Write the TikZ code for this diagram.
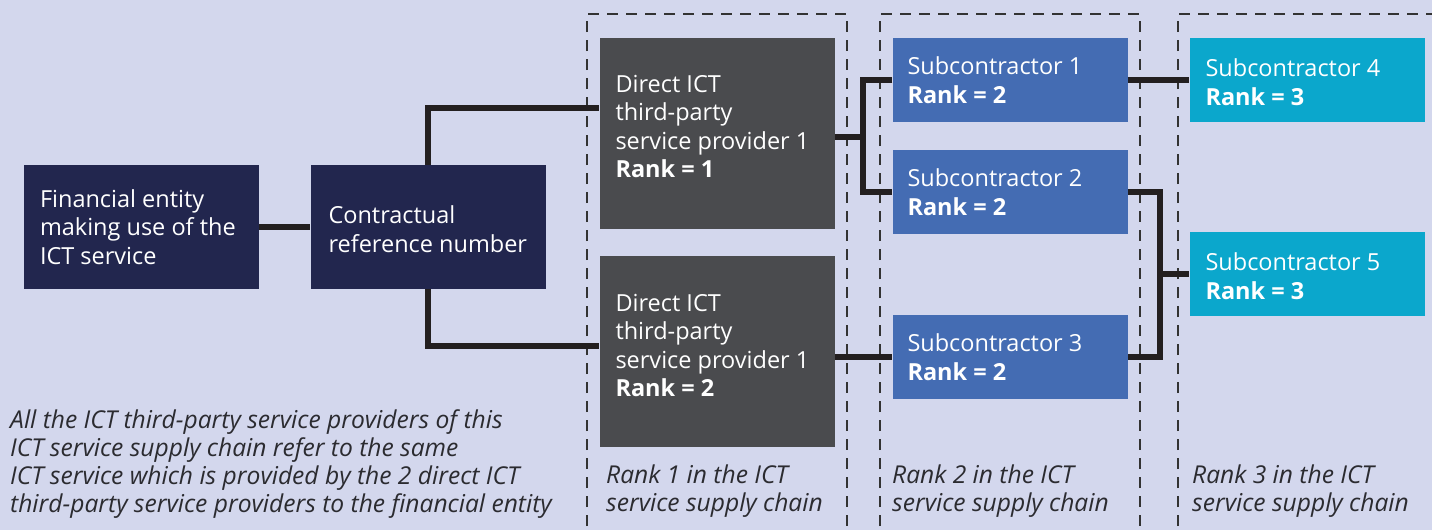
\documentclass[tikz,border=0pt]{standalone}
\usepackage{fontspec}
\setmainfont{Open Sans}
\definecolor{bgcol}{HTML}{D3D7ED}
\definecolor{navy}{HTML}{22264E}
\definecolor{slate}{HTML}{4A4B4E}
\definecolor{midblue}{HTML}{446CB3}
\definecolor{cyanblue}{HTML}{0BA7CC}
\definecolor{wire}{HTML}{231F20}
\definecolor{note}{HTML}{2B2B30}
\newcommand{\boxfont}{\fontsize{23.5}{28.5}\selectfont}
\newcommand{\notefont}{\fontsize{24.6}{28}\selectfont}
\begin{document}
\begin{tikzpicture}[x=1pt,y=-1pt,
  block/.style={rectangle, inner sep=0pt, draw=none, minimum width=235pt},
  navyblock/.style={block, fill=navy, minimum height=124pt},
  slateblock/.style={block, fill=slate, minimum height=191pt},
  blueblock/.style={block, fill=midblue, minimum height=84pt},
  cyanblock/.style={block, fill=cyanblue, minimum height=84pt},
  boxtxt/.style={anchor=west, align=left, inner sep=0pt, text=white, font=\boxfont},
  notetxt/.style={anchor=north west, align=left, inner sep=0pt, text=note, font=\notefont\itshape},
  link/.style={draw=wire, line width=5.5pt},
  rankframe/.style={draw=black!80, line width=1.3pt, dash pattern=on 11pt off 8pt}]
\clip (0,0) rectangle (1432,530);
\fill[bgcol] (0,0) rectangle (1432,530);
\useasboundingbox (0,0) rectangle (1432,530);

% dashed frames of the three ranks
\draw[rankframe] (587,545) -- (587,14) -- (847,14) -- (847,545);
\draw[rankframe] (880,545) -- (880,14) -- (1140,14) -- (1140,545);
\draw[rankframe] (1178,545) -- (1178,14) -- (1445,14);

% boxes
\node[navyblock] (fin) at (141.5,227) {};
\node[navyblock] (con) at (428,227) {};
\node[slateblock] (d1) at (717,133.5) {};
\node[slateblock] (d2) at (717,351.5) {};
\node[blueblock] (s1) at (1010,80) {};
\node[blueblock] (s2) at (1010,192) {};
\node[blueblock] (s3) at (1010,357) {};
\node[cyanblock] (s4) at (1307,80) {};
\node[cyanblock] (s5) at (1307,274) {};

% junction points of the branching connectors
\coordinate (j1) at (863,0);
\coordinate (j2) at (1160,0);

% connectors
\draw[link] (fin.east) -- (con.west);
\draw[link] (con.north) |- ([yshift=25.5pt]d1.west);
\draw[link] (con.south) |- ([yshift=5.5pt]d2.west);
\draw[link] ([yshift=-3.5pt]d1.east) -- ([yshift=-3.5pt]d1.east -| j1);
\draw[link] (s1.west) -| (j1 |- s2.west) -- (s2.west);
\draw[link] (s1.east) -- (s4.west);
\draw[link] (s2.east) -| (j2 |- s3.east) -- (s3.east);
\draw[link] (j2 |- s5.west) -- (s5.west);
\draw[link] (s3.west -| d2.east) -- (s3.west);

% box texts
\node[boxtxt] (fint) at ([xshift=16pt]fin.west) {Financial entity\\making use of the\\ICT service};
\node[boxtxt] (cont) at ([xshift=18pt,yshift=-2pt]con.west) {Contractual\\reference number};
\node[boxtxt] (d1t) at ([xshift=16pt,yshift=7pt]d1.west) {Direct ICT\\third-party\\service provider 1\\\textbf{Rank = 1}};
\node[boxtxt] (d2t) at ([xshift=16pt,yshift=6pt]d2.west) {Direct ICT\\third-party\\service provider 1\\\textbf{Rank = 2}};
\node[boxtxt] (s1t) at ([xshift=15pt]s1.west) {Subcontractor 1\\\textbf{Rank = 2}};
\node[boxtxt] (s2t) at ([xshift=15pt]s2.west) {Subcontractor 2\\\textbf{Rank = 2}};
\node[boxtxt] (s3t) at ([xshift=15pt]s3.west) {Subcontractor 3\\\textbf{Rank = 2}};
\node[boxtxt] (s4t) at ([xshift=16pt,yshift=-2pt]s4.west) {Subcontractor 4\\\textbf{Rank = 3}};
\node[boxtxt] (s5t) at ([xshift=16pt,yshift=-2pt]s5.west) {Subcontractor 5\\\textbf{Rank = 3}};

% rank captions
\node[notetxt] (r1) at (606,465) {Rank 1 in the ICT\\service supply chain};
\node[notetxt] (r2) at (892,465) {Rank 2 in the ICT\\service supply chain};
\node[notetxt] (r3) at (1192,465) {Rank 3 in the ICT\\service supply chain};

% explanatory note
\node[notetxt] (nt) at (10,409) {All the ICT third-party service providers of this\\ICT service supply chain refer to the same\\ICT service which is provided by the 2 direct ICT\\third-party service providers to the financial entity};
\end{tikzpicture}
\end{document}
